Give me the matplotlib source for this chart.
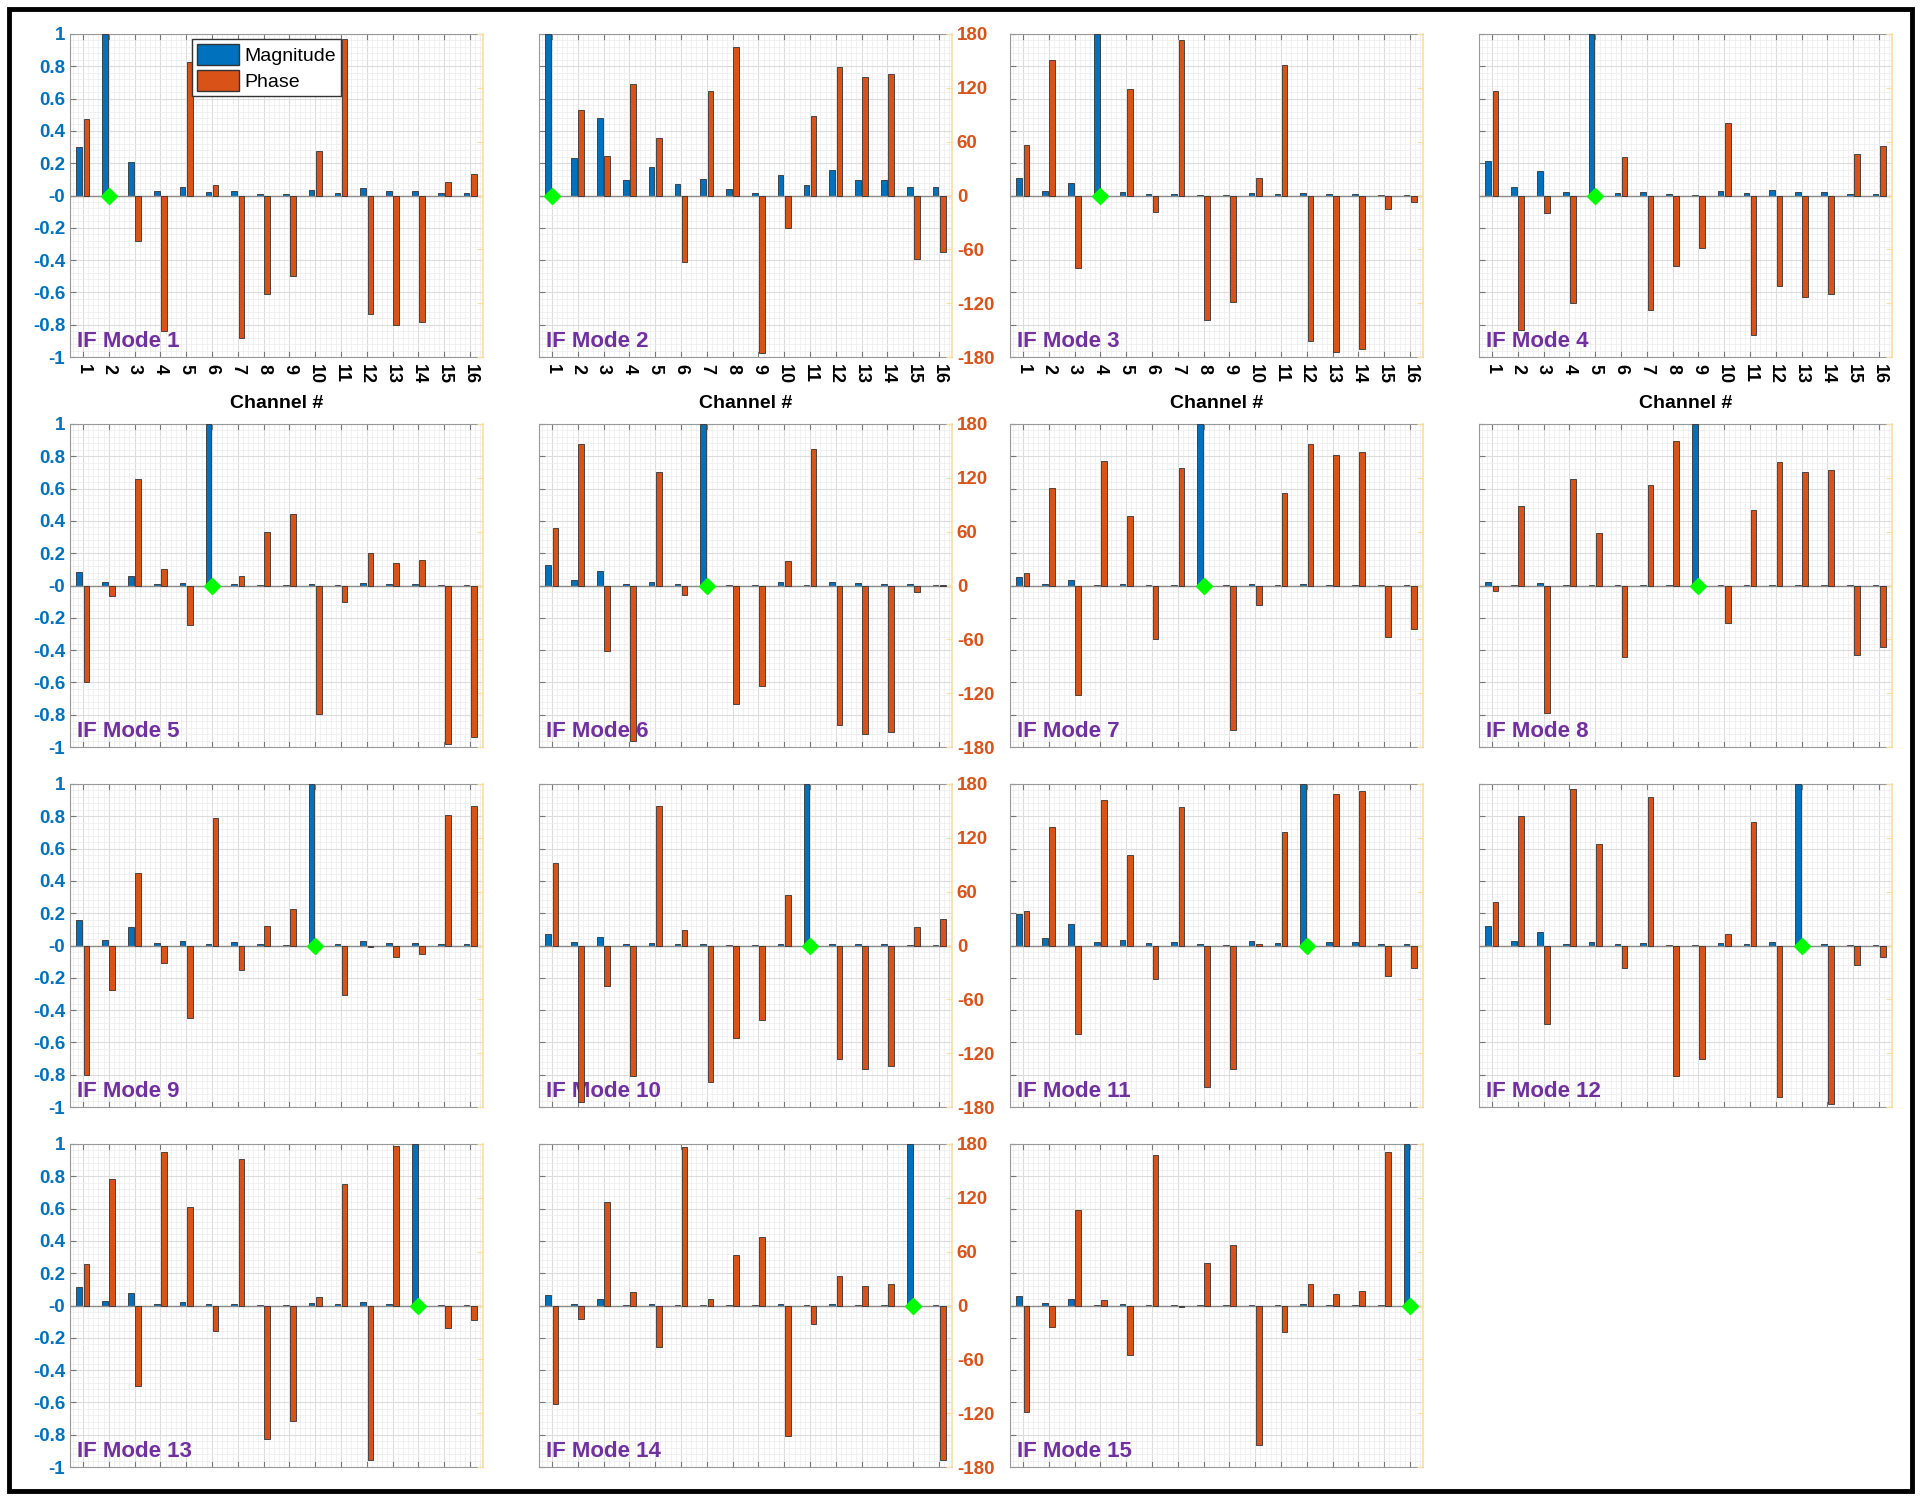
import numpy as np
import matplotlib
matplotlib.use("Agg")
from matplotlib import pyplot as plt
from matplotlib.patches import Rectangle, Patch
from matplotlib.ticker import MultipleLocator

plt.rcParams['font.family'] = ['Liberation Sans', 'DejaVu Sans']

channels = list(range(1, 17))

# magnitude (normalised) and phase (deg) per IF mode, channel 1..16
m1_mag = [0.30, 1.0, 0.21, 0.027, 0.05, 0.02, 0.03, 0.012, 0.008, 0.037, 0.018, 0.045, 0.027, 0.027, 0.015, 0.015]
m1_ph = [85.5, 0, -51, -151, 149, 12, -159, -110, -90, 49.5, 174, -132, -144, -141, 15, 24]
m2_mag = [1.0, 0.235, 0.48, 0.093, 0.174, 0.07, 0.103, 0.043, 0.017, 0.13, 0.062, 0.157, 0.095, 0.095, 0.052, 0.052]
m2_ph = [0, 95, 44, 124, 64, -74, 117, 166, -175.5, -36.5, 89, 143, 132, 135, -71, -62.5]
m3_mag = [0.11, 0.027, 0.08, 1.0, 0.02, 0.01, 0.012, 0.004, 0.002, 0.015, 0.01, 0.017, 0.012, 0.012, 0.006, 0.006]
m3_ph = [56, 151, -81, 0, 119, -18.6, 173, -139, -119, 20, 145, -162, -174, -171, -15, -6.7]
m4_mag = [0.213, 0.05, 0.15, 0.02, 1.0, 0.015, 0.023, 0.01, 0.004, 0.027, 0.015, 0.033, 0.02, 0.02, 0.012, 0.012]
m4_ph = [117, -150, -20, -120, 0, 43, -128, -78.5, -59, 81, -155.5, -101, -113, -110, 46.5, 55]
m5_mag = [0.083, 0.019, 0.06, 0.008, 0.015, 1.0, 0.01, 0.004, 0.002, 0.012, 0.006, 0.015, 0.008, 0.008, 0.004, 0.004]
m5_ph = [-107, -12, 118.5, 18, -43.5, 0, 11, 60, 80, -143, -18, 36.5, 25, 28, -177, -169]
m6_mag = [0.126, 0.031, 0.089, 0.012, 0.02, 0.01, 1.0, 0.006, 0.004, 0.019, 0.006, 0.02, 0.015, 0.012, 0.008, 0.006]
m6_ph = [64, 158, -73, -173, 127, -11, 0, -132, -112, 27, 152, -155, -166, -163, -7.5, 1]
m7_mag = [0.052, 0.012, 0.037, 0.002, 0.008, 0.004, 0.004, 1.0, 0.002, 0.008, 0.004, 0.008, 0.004, 0.004, 0.002, 0.002]
m7_ph = [14, 109, -122.5, 139, 78, -60, 131.5, 0, -161.5, -22, 103.5, 157.5, 146, 149, -57, -48]
m8_mag = [0.019, 0.004, 0.015, 0.002, 0.002, 0.002, 0.002, 0.002, 1.0, 0.004, 0.002, 0.002, 0.002, 0.002, 0.002, 0.002]
m8_ph = [-6, 89, -142, 119, 58, -80, 112, 161, 0, -42, 84, 138, 126, 129, -77, -68]
m9_mag = [0.157, 0.037, 0.114, 0.017, 0.027, 0.012, 0.02, 0.008, 0.004, 1.0, 0.012, 0.025, 0.017, 0.017, 0.01, 0.01]
m9_ph = [-144, -49.5, 81, -20, -81, 142, -27, 22, 41, 0, -55, -1.5, -13, -10, 146, 155]
m10_mag = [0.074, 0.019, 0.054, 0.008, 0.014, 0.008, 0.01, 0.004, 0.004, 0.012, 1.0, 0.012, 0.008, 0.008, 0.004, 0.004]
m10_ph = [91.5, -174.5, -44.6, -145, 155, 17.5, -152, -103, -83, 56, 0, -126, -138, -134.6, 21, 29.4]
m11_mag = [0.192, 0.045, 0.136, 0.019, 0.033, 0.014, 0.019, 0.01, 0.004, 0.025, 0.014, 1.0, 0.019, 0.019, 0.01, 0.01]
m11_ph = [38, 132, -98.5, 162, 101, -37, 154, -158, -138, 2, 127, 0, 169, 172, -33.5, -25]
m12_mag = [0.118, 0.027, 0.083, 0.012, 0.021, 0.01, 0.014, 0.004, 0.002, 0.017, 0.008, 0.021, 1.0, 0.012, 0.006, 0.006]
m12_ph = [49, 144, -88, 174, 113, -25, 166, -146, -126, 13, 138, -169, 0, -177, -22, -13]
m13_mag = [0.116, 0.027, 0.08, 0.012, 0.021, 0.01, 0.012, 0.006, 0.002, 0.014, 0.008, 0.019, 0.012, 1.0, 0.006, 0.006]
m13_ph = [46.5, 141, -90, 171, 110, -28, 163, -149, -129, 10, 135, -172, 178, 0, -25, -16]
m14_mag = [0.062, 0.012, 0.041, 0.004, 0.01, 0.002, 0.006, 0.002, 0.002, 0.01, 0.002, 0.01, 0.004, 0.006, 1.0, 0.002]
m14_ph = [-110, -15, 115, 14.5, -46.5, 177, 7, 56, 76, -146, -21, 33, 21.5, 24.5, 0, -172]
m15_mag = [0.06, 0.014, 0.041, 0.006, 0.008, 0.004, 0.006, 0.004, 0.002, 0.006, 0.004, 0.01, 0.006, 0.006, 0.004, 1.0]
m15_ph = [-118.6, -24, 106, 5.6, -55, 168, -1.5, 47, 67, -155, -30, 24.5, 13, 16, 171, 0]

ref_channel = [2, 1, 4, 5, 6, 7, 8, 9, 10, 11, 12, 13, 14, 15, 16]

mags = [m1_mag, m2_mag, m3_mag, m4_mag, m5_mag, m6_mag, m7_mag, m8_mag,
        m9_mag, m10_mag, m11_mag, m12_mag, m13_mag, m14_mag, m15_mag]
phases = [m1_ph, m2_ph, m3_ph, m4_ph, m5_ph, m6_ph, m7_ph, m8_ph,
          m9_ph, m10_ph, m11_ph, m12_ph, m13_ph, m14_ph, m15_ph]

blue = '#0072BD'
orange = '#D95319'
purple = '#7030A0'
pale = '#F8DFA0'

W, H = 1920, 1500
fig = plt.figure(figsize=(19.2, 15), dpi=100)

col_left = [70, 539, 1010, 1479]
row_bottom = [357, 747, 1107, 1467]
ax_w, ax_h = 413, 323

x = np.array(channels)
bw = 0.22
off = 0.14
mag_ticks = np.round(np.arange(-1, 1.01, 0.2), 1)

for k in range(15):
    r, c = divmod(k, 4)
    rect = [col_left[c] / W, 1 - row_bottom[r] / H, ax_w / W, ax_h / H]
    ax = fig.add_axes(rect)
    ax2 = ax.twinx()

    ax.bar(x - off, mags[k], width=bw, color=blue, edgecolor='#333333', linewidth=0.6, zorder=3)
    ax2.bar(x + off, phases[k], width=bw, color=orange, edgecolor='#333333', linewidth=0.6, zorder=3)
    ax.axhline(0, color='#8c8c8c', lw=1.0, zorder=4)
    ax2.plot([ref_channel[k]], [0], marker='D', color='#00FF00', markersize=8,
             linestyle='none', zorder=6, clip_on=False)

    ax.set_xlim(0.5, 16.5)
    ax.set_ylim(-1, 1)
    ax2.set_ylim(-180, 180)
    ax.set_xticks(channels)
    ax.set_yticks(mag_ticks)
    ax2.set_yticks(np.arange(-180, 181, 60))
    ax.xaxis.set_minor_locator(MultipleLocator(0.2))
    ax.yaxis.set_minor_locator(MultipleLocator(0.04))
    ax.set_axisbelow(True)
    ax.grid(which='major', color='#dcdcdc', lw=0.8)
    ax.grid(which='minor', color='#ececec', lw=0.5)

    ax.tick_params(axis='x', which='major', direction='in', top=True, length=4,
                   color='#777777', pad=5)
    ax.tick_params(axis='x', which='minor', length=0)
    ax.tick_params(axis='y', which='major', direction='in', length=4, color='#777777')
    ax.tick_params(axis='y', which='minor', length=0)
    ax2.tick_params(axis='y', direction='in', length=4, color=pale)

    for s in ['left', 'top', 'bottom']:
        ax.spines[s].set_color('#999999')
        ax2.spines[s].set_visible(False)
    ax.spines['right'].set_visible(False)
    ax2.spines['right'].set_color(pale)
    ax2.spines['right'].set_linewidth(1.2)

    if r == 0:
        ax.set_xticklabels([str(v) for v in channels], rotation=270, fontsize=13,
                           fontweight='bold')
        ax.set_xlabel('Channel #', fontsize=14, fontweight='bold', labelpad=8)
    else:
        ax.set_xticklabels([])

    if c == 0:
        ax.set_yticklabels(['{:g}'.format(v) for v in mag_ticks],
                           fontsize=13.5, fontweight='bold', color=blue)
    else:
        ax.set_yticklabels([])
    if c == 1:
        ax2.set_yticklabels([str(v) for v in range(-180, 181, 60)],
                            fontsize=13.5, fontweight='bold', color=orange)
    else:
        ax2.set_yticklabels([])

    ax.text(0.018, 0.03, 'IF Mode %d' % (k + 1), transform=ax.transAxes,
            fontsize=16, fontweight='bold', color=purple, va='baseline', zorder=7)

    if k == 0:
        handles = [Patch(facecolor=blue, edgecolor='#333333'),
                   Patch(facecolor=orange, edgecolor='#333333')]
        leg = ax2.legend(handles, ['Magnitude', 'Phase'], loc='upper left',
                         bbox_to_anchor=(0.295, 0.985), fontsize=14, frameon=True,
                         fancybox=False, edgecolor='#333333', framealpha=1,
                         handlelength=2.2, handleheight=1.3, handletextpad=0.25,
                         borderpad=0.25, labelspacing=0.25, borderaxespad=0)
        leg.set_zorder(10)

# outer frame
fig.patches.append(Rectangle((9 / W, 9 / H), 1903 / W, 1482 / H, transform=fig.transFigure,
                             fill=False, edgecolor='black', linewidth=3.5))

fig.savefig('out.png', dpi=100)
